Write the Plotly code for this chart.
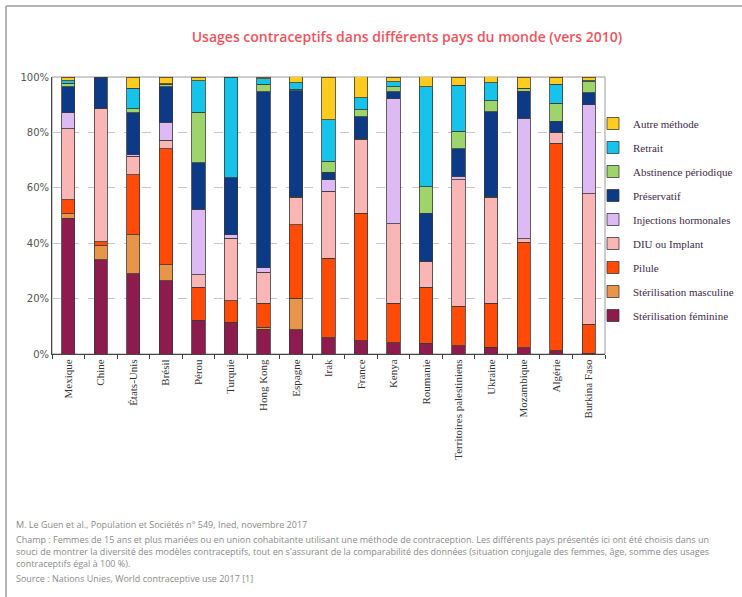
import plotly.graph_objects as go

countries = ["Mexique", "Chine", "États-Unis", "Brésil", "Pérou", "Turquie", "Hong Kong",
             "Espagne", "Irak", "France", "Kenya", "Roumanie", "Territoires palestiniens",
             "Ukraine", "Mozambique", "Algérie", "Burkina Faso"]

ster_fem = [49.0, 34.1, 28.9, 26.5, 12.0, 11.4, 9.0, 8.7, 5.8, 4.8, 4.0, 3.9, 3.0, 2.4, 2.2, 1.2, 0.3]
ster_masc = [1.6, 4.9, 14.2, 5.7, 0.2, 0.0, 0.6, 11.4, 0.0, 0.0, 0.0, 0.0, 0.0, 0.0, 0.0, 0.0, 0.0]
pilule = [5.1, 1.6, 21.7, 41.9, 11.9, 7.9, 8.7, 26.6, 28.8, 46.0, 14.4, 20.2, 14.2, 16.0, 38.2, 74.9, 10.5]
diu = [25.6, 48.2, 6.6, 3.0, 4.5, 22.5, 11.2, 9.9, 24.2, 26.7, 28.6, 9.3, 45.7, 38.2, 1.2, 4.0, 47.0]
injections = [5.8, 0.0, 0.5, 6.6, 23.6, 1.3, 1.6, 0.2, 4.1, 0.2, 45.2, 0.1, 1.2, 0.2, 43.6, 0.0, 32.2]
preservatif = [9.3, 11.0, 15.2, 12.7, 16.8, 20.5, 63.5, 38.3, 2.8, 8.0, 2.4, 17.4, 10.0, 30.7, 9.7, 3.9, 4.3]
abstinence = [1.4, 0.0, 1.5, 0.9, 18.3, 0.0, 2.7, 0.5, 3.9, 2.5, 1.8, 9.4, 6.3, 4.0, 0.9, 6.6, 3.9]
retrait = [0.8, 0.0, 7.4, 0.3, 11.3, 36.2, 2.1, 2.4, 15.0, 4.4, 1.8, 36.2, 16.6, 6.5, 0.2, 6.7, 0.5]
autre = [1.4, 0.2, 4.0, 2.4, 1.4, 0.2, 0.6, 2.2, 15.4, 7.6, 1.8, 3.6, 3.0, 2.2, 4.0, 2.7, 1.3]

methods = ["Stérilisation féminine", "Stérilisation masculine", "Pilule", "DIU ou Implant",
           "Injections hormonales", "Préservatif", "Abstinence périodique", "Retrait", "Autre méthode"]
series = [ster_fem, ster_masc, pilule, diu, injections, preservatif, abstinence, retrait, autre]
colors = ["#8E1B4E", "#E8954A", "#FF4A08", "#F9B6B4", "#DDBAF3", "#0C3A87", "#9DD46C", "#16C3EA", "#FFCB1F"]

y_ticks = [0, 20, 40, 60, 80, 100]
y_ticktext = ["0%", "20%", "40%", "60%", "80%", "100%"]

fig = go.Figure()
for i, (name, vals, col) in enumerate(zip(methods, series, colors)):
    fig.add_trace(go.Bar(
        x=countries, y=vals, name=name, legendgroup=name,
        legendrank=1000 - 10 * i,
        marker=dict(color=col, line=dict(color="#3a3a3a", width=0.8)),
    ))

W, H = 742, 597
L, R, T, B = 52, 605, 77, 354

def px(x):
    return (x - L) / (R - L)

def py(y):
    return (B - y) / (B - T)

shapes = [
    dict(type="line", xref="paper", yref="paper", x0=px(6), x1=px(742), y0=py(6), y1=py(6),
         line=dict(color="#b5b5b5", width=2)),
    dict(type="line", xref="paper", yref="paper", x0=px(6), x1=px(6), y0=py(6), y1=py(597),
         line=dict(color="#b5b5b5", width=2)),
    dict(type="rect", xref="paper", yref="paper", x0=0, x1=1, y0=0, y1=1,
         line=dict(color="#9a9a9a", width=1), layer="below"),
]

notes = [
    (524, "M. Le Guen et al., Population et Sociétés n° 549, Ined, novembre 2017"),
    (539, "Champ : Femmes de 15 ans et plus mariées ou en union cohabitante utilisant une méthode de contraception. Les différents pays présentés ici ont été choisis dans un"),
    (551, "souci de montrer la diversité des modèles contraceptifs, tout en s'assurant de la comparabilité des données (situation conjugale des femmes, âge, somme des usages"),
    (563, "contraceptifs égal à 100 %)."),
    (578, "Source : Nations Unies, World contraceptive use 2017 [1]"),
]
annotations = []
for yy, txt in notes:
    annotations.append(dict(
        xref="paper", yref="paper", x=px(14), y=py(yy), xanchor="left", yanchor="middle",
        text=txt, showarrow=False, font=dict(family="Open Sans", size=9.0, color="#8a8a8a"),
    ))

fig.update_layout(
    width=W, height=H,
    margin=dict(l=L, r=W - R, t=T, b=H - B, autoexpand=False),
    paper_bgcolor="white", plot_bgcolor="white",
    barmode="stack", bargap=0.59,
    title=dict(text="Usages contraceptifs dans différents pays du monde (vers 2010)",
               x=407 / W, y=1 - 37 / H, xanchor="center", yanchor="middle",
               font=dict(family="Open Sans", size=14, color="#EC5560", weight=600)),
    xaxis=dict(showline=True, linecolor="#444", linewidth=1, mirror=False,
               ticks="outside", tickson="boundaries", ticklen=4, tickcolor="#444",
               tickangle=-90, tickfont=dict(family="Liberation Serif", size=11, color="#333"),
               showgrid=False, automargin=False),
    yaxis=dict(range=[0, 100], tickvals=y_ticks, ticktext=y_ticktext,
               showline=True, linecolor="#444", linewidth=1,
               showgrid=True, gridcolor="#c8c8c8", griddash="dash", gridwidth=1,
               tickfont=dict(family="DejaVu Sans", size=10, color="#555"),
               zeroline=False, automargin=False),
    legend=dict(x=px(593), y=py(109), xanchor="left", yanchor="top",
                traceorder="grouped", tracegroupgap=5,
                font=dict(family="Liberation Serif", size=11, color="#3e2a48"),
                itemwidth=30, bgcolor="rgba(0,0,0,0)"),
    shapes=shapes,
    annotations=annotations,
)

fig.write_html("out.html", config={"displayModeBar": False},
               post_script="document.body.style.margin='0';")
